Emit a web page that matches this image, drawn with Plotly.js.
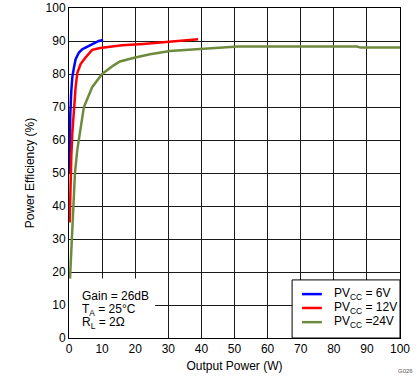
<!DOCTYPE html>
<html><head><meta charset="utf-8">
<script src="https://cdn.plot.ly/plotly-3.0.1.min.js"></script>
<style>html,body{margin:0;padding:0;background:#fff}</style>
</head><body><div id="chart" style="width:419px;height:382px"></div>
<script>
const p6x  = [0.1, 0.2, 0.4, 0.7, 1.0, 1.5, 2.0, 3.0, 4.0, 5.0, 6.0, 7.0, 8.0, 9.0, 10.3];
const p6y  = [50, 60, 68, 75, 79, 82, 84.5, 86.5, 87.5, 88, 88.5, 89, 89.5, 90, 90.3];
const p12x = [0.2, 0.4, 0.7, 1.0, 1.5, 2.0, 2.5, 3.5, 5.0, 7.0, 9.4, 12, 16, 22.4, 29.5, 35, 39];
const p12y = [35, 45, 55, 62, 70, 76, 80.3, 83, 85, 87.3, 87.9, 88.3, 88.7, 89.1, 89.7, 90.1, 90.5];
const p24x = [0.3, 0.5, 0.9, 1.3, 1.8, 2.5, 3.0, 4.5, 7.0, 10, 13.6, 15.4, 20, 24.5, 30.5, 39.6, 45.6, 48, 51, 60, 70, 80, 87, 88, 100];
const p24y = [18, 22, 30, 40, 50, 57, 60, 70, 76, 80, 82.7, 83.8, 85, 86, 87, 87.5, 87.8, 88, 88.3, 88.3, 88.3, 88.3, 88.3, 88, 88];
const names = ['PV<sub>CC</sub> = 6V', 'PV<sub>CC</sub> = 12V', 'PV<sub>CC</sub> =24V'];
const colors = ['#0000ff', '#ff0000', '#6e8b3d'];
const xTicks = [0,10,20,30,40,50,60,70,80,90,100];
const yTicks = [0,10,20,30,40,50,60,70,80,90,100];
const notes = ['Gain = 26dB', 'T<sub>A</sub> = 25°C', 'R<sub>L</sub> = 2Ω'];

const xs = [p6x, p12x, p24x], ys = [p6y, p12y, p24y];
const traces = xs.map((x, i) => ({
  x: x, y: ys[i], type: 'scatter', mode: 'lines', name: names[i],
  line: {color: colors[i], width: 2.5}, showlegend: false
}));
const F = 'Liberation Sans, Arial, sans-serif';

// manual legend (box, line samples, labels) in paper coordinates
const legRows = [0.133, 0.091, 0.048];
const legendShapes = [{type: 'rect', xref: 'paper', yref: 'paper', x0: 0.674, x1: 1, y0: 0, y1: 0.176,
  fillcolor: '#fff', line: {color: '#000', width: 1}, layer: 'above'}].concat(
  names.map((n, i) => ({type: 'line', xref: 'paper', yref: 'paper', x0: 0.704, x1: 0.764,
    y0: legRows[i], y1: legRows[i], line: {color: colors[i], width: 2.5}, layer: 'above'})));
const legendTexts = names.map((n, i) => ({text: n, xref: 'paper', yref: 'paper', x: 0.795, y: legRows[i],
  xanchor: 'left', yanchor: 'middle', showarrow: false, font: {family: F, size: 12, color: '#000'}}));

const layout = {
  width: 419, height: 382,
  margin: {l: 69, r: 19, t: 8, b: 44},
  paper_bgcolor: '#fff', plot_bgcolor: '#fff',
  font: {family: F, size: 12, color: '#000'},
  showlegend: false,
  xaxis: {range: [0, 100], tickvals: xTicks, ticktext: xTicks.map(String), showgrid: true,
          gridcolor: '#1a1a1a', gridwidth: 1, showline: true, linecolor: '#000', linewidth: 1, mirror: true,
          zeroline: false, ticks: '', tickfont: {size: 12, color: '#000'},
          title: {text: 'Output Power (W)', font: {size: 12, color: '#000'}, standoff: 6}},
  yaxis: {range: [0, 100], tickvals: yTicks, ticktext: yTicks.map(String), showgrid: true,
          gridcolor: '#1a1a1a', gridwidth: 1, showline: true, linecolor: '#000', linewidth: 1, mirror: true,
          zeroline: false, ticks: '', tickfont: {size: 12, color: '#000'},
          title: {text: 'Power Efficiency (%)', font: {size: 12, color: '#000'}, standoff: 8}},
  shapes: [{type: 'rect', xref: 'x', yref: 'y', x0: 0, x1: 26, y0: 0, y1: 18,
            fillcolor: '#fff', line: {width: 0}, layer: 'between'}].concat(legendShapes),
  annotations: notes.map((t, i) => ({
    text: t, xref: 'x', yref: 'y', x: 3.4, y: 12.6 - i * 4.0, xanchor: 'left', yanchor: 'middle',
    showarrow: false, font: {family: F, size: 12, color: '#000'}
  })).concat(legendTexts).concat([{text: 'G026', xref: 'paper', yref: 'paper', x: 1.045, y: -0.1, xanchor: 'right',
    yanchor: 'middle', showarrow: false, font: {family: F, size: 6, color: '#555'}}])
};
Plotly.newPlot('chart', traces, layout, {displayModeBar: false, staticPlot: true});
</script></body></html>
